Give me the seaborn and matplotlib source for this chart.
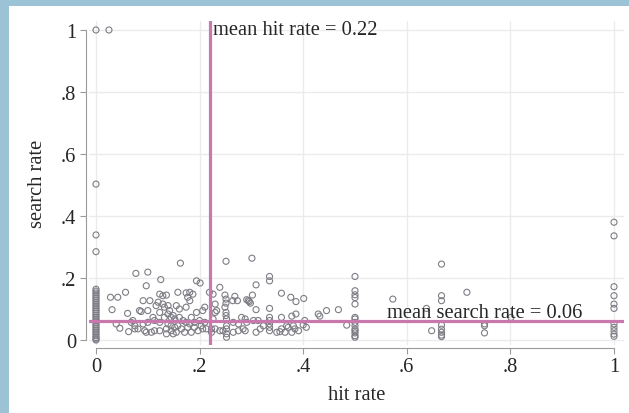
import matplotlib
matplotlib.use("Agg")
import matplotlib.pyplot as plt
from matplotlib.patches import Rectangle
import seaborn as sns
import pandas as pd

# column of officers with hit rate 0
zero_hit_search = [1.0, 0.503, 0.339, 0.285, 0.164, 0.158, 0.152, 0.146, 0.140,
                   0.134, 0.128, 0.122, 0.116, 0.110, 0.104, 0.098, 0.092, 0.086,
                   0.080, 0.074, 0.068, 0.062, 0.056, 0.050, 0.044, 0.038, 0.032,
                   0.026, 0.020, 0.014, 0.008, 0.004, 0.0]

# scattered points, low hit rates (0 - 0.22)
low_hit = [0.025, 0.077, 0.100, 0.163, 0.201,
           0.028, 0.042, 0.057, 0.097, 0.125, 0.194, 0.031, 0.061, 0.039, 0.046,
           0.063, 0.081, 0.094, 0.071, 0.068, 0.084, 0.087, 0.100, 0.091, 0.104,
           0.116, 0.123, 0.129, 0.136, 0.120, 0.129, 0.132, 0.139, 0.142, 0.123,
           0.139, 0.149, 0.158, 0.174, 0.181, 0.187, 0.177, 0.181, 0.155, 0.161,
           0.174, 0.210, 0.206, 0.194, 0.184, 0.110, 0.132, 0.145, 0.152, 0.161,
           0.168, 0.174, 0.181, 0.190, 0.200, 0.203, 0.210, 0.075, 0.091, 0.100,
           0.113, 0.123, 0.139, 0.145, 0.152, 0.158, 0.165, 0.177, 0.190, 0.197,
           0.206, 0.213, 0.113, 0.123, 0.136, 0.145, 0.155, 0.171, 0.184, 0.136,
           0.149, 0.075, 0.097, 0.107, 0.219, 0.223]
low_search = [1.0, 0.215, 0.219, 0.248, 0.184,
              0.138, 0.138, 0.154, 0.175, 0.195, 0.191, 0.098, 0.086, 0.052, 0.038,
              0.027, 0.036, 0.030, 0.063, 0.057, 0.095, 0.092, 0.095, 0.127, 0.127,
              0.111, 0.148, 0.143, 0.145, 0.122, 0.116, 0.106, 0.111, 0.095, 0.089,
              0.084, 0.079, 0.154, 0.152, 0.154, 0.148, 0.138, 0.127, 0.111, 0.100,
              0.106, 0.106, 0.095, 0.089, 0.073, 0.073, 0.073, 0.073, 0.068, 0.073,
              0.063, 0.057, 0.052, 0.057, 0.063, 0.046, 0.057, 0.046, 0.052, 0.057,
              0.063, 0.057, 0.052, 0.046, 0.041, 0.046, 0.036, 0.041, 0.041, 0.030,
              0.036, 0.036, 0.030, 0.030, 0.036, 0.030, 0.025, 0.025, 0.025, 0.020,
              0.020, 0.036, 0.025, 0.025, 0.154, 0.036]

# scattered points, middle hit rates (0.22 - 0.45)
mid_hit = [0.251, 0.301, 0.335,
           0.226, 0.239, 0.230, 0.230, 0.233, 0.226, 0.249, 0.251, 0.251, 0.249,
           0.251, 0.251, 0.252, 0.268, 0.264, 0.273, 0.291, 0.296, 0.298, 0.302,
           0.294, 0.309, 0.335, 0.309, 0.335, 0.358, 0.376, 0.386, 0.401, 0.358,
           0.378, 0.386, 0.429, 0.432, 0.445, 0.265, 0.275, 0.281, 0.288, 0.291,
           0.304, 0.313, 0.335, 0.335, 0.335, 0.335, 0.335, 0.323, 0.317, 0.309,
           0.284, 0.288, 0.275, 0.265, 0.252, 0.252, 0.252, 0.252, 0.239, 0.245,
           0.230, 0.223, 0.349, 0.355, 0.358, 0.365, 0.371, 0.378, 0.384, 0.391,
           0.400, 0.403, 0.406, 0.368, 0.381]
mid_search = [0.254, 0.264, 0.205,
              0.148, 0.170, 0.116, 0.089, 0.095, 0.068, 0.145, 0.132, 0.119, 0.106,
              0.089, 0.079, 0.068, 0.141, 0.127, 0.127, 0.130, 0.124, 0.119, 0.145,
              0.127, 0.178, 0.191, 0.098, 0.102, 0.151, 0.138, 0.124, 0.134, 0.073,
              0.077, 0.084, 0.084, 0.077, 0.095, 0.057, 0.052, 0.073, 0.068, 0.057,
              0.063, 0.063, 0.073, 0.063, 0.052, 0.041, 0.030, 0.046, 0.036, 0.025,
              0.036, 0.030, 0.030, 0.025, 0.046, 0.036, 0.020, 0.009, 0.030, 0.030,
              0.036, 0.025, 0.025, 0.027, 0.036, 0.025, 0.041, 0.025, 0.036, 0.030,
              0.049, 0.063, 0.041, 0.046, 0.046]

# high hit rates (0.45 - 1), mostly in columns at simple fractions
high_hit = [0.468, 0.484,
            0.5, 0.5, 0.5, 0.5, 0.5, 0.5, 0.5, 0.5, 0.5, 0.5, 0.5, 0.5, 0.5, 0.5,
            0.573, 0.638, 0.648,
            0.667, 0.667, 0.667, 0.667, 0.667, 0.667, 0.667, 0.667,
            0.716, 0.75, 0.75, 0.75, 0.801,
            1.0, 1.0, 1.0, 1.0, 1.0, 1.0, 1.0, 1.0, 1.0, 1.0, 1.0]
high_search = [0.098, 0.048,
               0.205, 0.159, 0.146, 0.137, 0.116, 0.073, 0.068, 0.057, 0.046,
               0.035, 0.030, 0.023, 0.014, 0.009,
               0.132, 0.102, 0.030,
               0.245, 0.143, 0.127, 0.048, 0.035, 0.025, 0.016, 0.011,
               0.154, 0.052, 0.046, 0.023, 0.073,
               0.380, 0.336, 0.172, 0.143, 0.116, 0.102, 0.052, 0.041, 0.030,
               0.019, 0.012]

mean_hit = 0.22
mean_search = 0.06
ticks = [0, 0.2, 0.4, 0.6, 0.8, 1]
tick_labels = ["0", ".2", ".4", ".6", ".8", "1"]

df = pd.DataFrame({
    "hit": [0.0] * len(zero_hit_search) + low_hit + mid_hit + high_hit,
    "search": zero_hit_search + low_search + mid_search + high_search,
})

sns.set_style("white")
plt.rcParams["font.family"] = ["Liberation Serif", "DejaVu Serif"]

fig = plt.figure(figsize=(6.29, 4.14), dpi=100)
fig.patch.set_facecolor("#9cc2d6")
fig.add_artist(Rectangle((9 / 629, 0), 1, 407 / 414, transform=fig.transFigure,
                         facecolor="white", edgecolor="none", zorder=-1))
ax = fig.add_axes([89 / 629, 68 / 414, 535 / 629, 324 / 414])

sns.scatterplot(data=df, x="hit", y="search", ax=ax, marker="o", s=19,
                facecolor="none", edgecolor="#7d7d85", linewidth=0.8, zorder=3)

line_color = "#c978ad"
ax.axvline(mean_hit, color=line_color, lw=2.3, zorder=4)
ax.axhline(mean_search, color=line_color, lw=2.3, zorder=4)
ax.text(mean_hit + 0.006, 1.0, "mean hit rate = 0.22", fontsize=14.8,
        ha="left", va="center", zorder=5)
ax.text(0.751, mean_search + 0.015, "mean search rate = 0.06", fontsize=14.8,
        ha="center", va="baseline", zorder=5)

ax.set_xlim(-0.0135, 1.0193)
ax.set_ylim(-0.016, 1.029)
ax.set_xticks(ticks)
ax.set_xticklabels(tick_labels)
ax.set_yticks(ticks)
ax.set_yticklabels(tick_labels)
ax.grid(True, color="#ebebeb", lw=1)
ax.set_axisbelow(True)

for side in ["top", "right"]:
    ax.spines[side].set_visible(False)
for side in ["left", "bottom"]:
    ax.spines[side].set_position(("outward", 2))
    ax.spines[side].set_bounds(0, 1)
    ax.spines[side].set_color("#9a9a9a")
ax.tick_params(axis="both", direction="out", length=4, width=0.8,
               color="#9a9a9a", labelsize=14.8, pad=3, left=True, bottom=True)

ax.set_xlabel("hit rate", fontsize=14.8, labelpad=6)
ax.set_ylabel("search rate", fontsize=14.8, labelpad=10)

fig.savefig("out.png", dpi=100)
